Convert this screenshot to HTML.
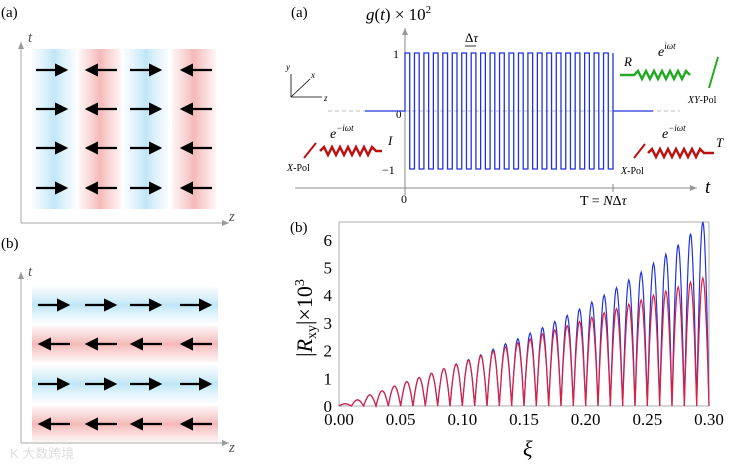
<!DOCTYPE html>
<html><head><meta charset="utf-8"><style>
body{margin:0;background:#fff;width:734px;height:464px;overflow:hidden}
svg{display:block;font-family:"Liberation Serif",serif}
</style></head><body>
<svg width="734" height="464" viewBox="0 0 734 464">
<defs>
<linearGradient id="gb" x1="0" x2="1"><stop offset="0" stop-color="#d6eefa" stop-opacity="0.2"/><stop offset="0.5" stop-color="#bfe6f7"/><stop offset="1" stop-color="#d6eefa" stop-opacity="0.2"/></linearGradient>
<linearGradient id="gr" x1="0" x2="1"><stop offset="0" stop-color="#f7c9c9" stop-opacity="0.2"/><stop offset="0.5" stop-color="#f5b8b8"/><stop offset="1" stop-color="#f7c9c9" stop-opacity="0.2"/></linearGradient>
<linearGradient id="hb" x1="0" x2="0" y1="0" y2="1"><stop offset="0" stop-color="#d6eefa" stop-opacity="0.2"/><stop offset="0.5" stop-color="#bfe6f7"/><stop offset="1" stop-color="#d6eefa" stop-opacity="0.2"/></linearGradient>
<linearGradient id="hr" x1="0" x2="0" y1="0" y2="1"><stop offset="0" stop-color="#f7c9c9" stop-opacity="0.2"/><stop offset="0.5" stop-color="#f5b8b8"/><stop offset="1" stop-color="#f7c9c9" stop-opacity="0.2"/></linearGradient>
<marker id="ah" markerWidth="8" markerHeight="8" refX="7" refY="4" orient="auto"><path d="M0,1 L7,4 L0,7 z" fill="#999"/></marker>
<marker id="ab" markerWidth="6" markerHeight="6" refX="5" refY="3" orient="auto"><path d="M0,0 L6,3 L0,6 z" fill="#000"/></marker>
</defs>

<g>
<text x="1" y="17" font-size="15">(a)</text>
<rect x="32" y="49" width="44" height="160" fill="url(#gb)"/>
<rect x="79" y="49" width="42" height="160" fill="url(#gr)"/>
<rect x="124" y="49" width="44" height="160" fill="url(#gb)"/>
<rect x="172" y="49" width="44" height="160" fill="url(#gr)"/>
<line x1="21" y1="223" x2="21" y2="42" stroke="#aaa" marker-end="url(#ah)"/>
<line x1="21" y1="223" x2="229" y2="223" stroke="#aaa" marker-end="url(#ah)"/>
<text x="28" y="42" font-size="15" font-style="italic" fill="#555">t</text>
<text x="229" y="221" font-size="15" font-style="italic" fill="#555">z</text>
</g>

<g>
<text x="1" y="248" font-size="15">(b)</text>
<rect x="32" y="287" width="186" height="36" fill="url(#hb)"/>
<rect x="32" y="326" width="186" height="36" fill="url(#hr)"/>
<rect x="32" y="366" width="186" height="36" fill="url(#hb)"/>
<rect x="32" y="406" width="186" height="36" fill="url(#hr)"/>
<line x1="21" y1="443" x2="21" y2="272" stroke="#aaa" marker-end="url(#ah)"/>
<line x1="21" y1="443" x2="229" y2="443" stroke="#aaa" marker-end="url(#ah)"/>
<text x="28" y="276" font-size="15" font-style="italic" fill="#555">t</text>
<text x="229" y="452" font-size="15" font-style="italic" fill="#555">z</text>
<text x="10" y="458" font-size="13" fill="#ddd" font-family="Liberation Sans,'Noto Sans CJK SC',sans-serif">K 大数跨境</text>
</g>
<g id="arrows" stroke="#000" stroke-width="2.2"></g>

<g>
<text x="291" y="17" font-size="15">(a)</text>
<text x="366" y="20" font-size="17"><tspan font-style="italic">g</tspan>(<tspan font-style="italic">t</tspan>) × 10<tspan font-size="11" dy="-7">2</tspan></text>
<line x1="328" y1="111" x2="680" y2="111" stroke="#bbb" stroke-dasharray="4,3"/>
<line x1="295" y1="188" x2="697" y2="188" stroke="#888" marker-end="url(#ah)"/>
<line x1="405" y1="195" x2="405" y2="28" stroke="#888" marker-end="url(#ah)"/>
<text x="705" y="193" font-size="19" font-style="italic">t</text>
<text x="393" y="58" font-size="12">1</text>
<text x="396" y="118" font-size="11">0</text>
<text x="382" y="174" font-size="12">−1</text>
<text x="401" y="203" font-size="12">0</text>
<line x1="613" y1="184" x2="613" y2="192" stroke="#888"/>
<text x="580" y="205" font-size="14">T = <tspan font-style="italic">N</tspan>Δ<tspan font-style="italic">τ</tspan></text>
<text x="465" y="42" font-size="13">Δ<tspan font-style="italic">τ</tspan></text>
<line x1="465" y1="46" x2="476" y2="46" stroke="#000" stroke-width="0.8"/>
<path id="sq" fill="none" stroke="#2233dd" stroke-width="1.3"/>
<g stroke="#000" stroke-width="0.8">
<line x1="291" y1="97" x2="291" y2="74"/><line x1="291" y1="97" x2="322" y2="97"/><line x1="291" y1="97" x2="310" y2="79"/>
</g>
<text x="286" y="70" font-size="9" font-style="italic">y</text>
<text x="311" y="78" font-size="9" font-style="italic">x</text>
<text x="324" y="101" font-size="9" font-style="italic">z</text>
<text x="330" y="138" font-size="14" font-style="italic">e<tspan font-size="9" dy="-7">−iωt</tspan></text>
<text x="388" y="145" font-size="13" font-style="italic">I</text>
<path d="M320,151 l4,-4 l4,8 l4,-8 l4,8 l4,-8 l4,8 l4,-8 l4,8 l4,-8 l4,8 l4,-8 l4,8 l4,-8 l4,4 l6,0" fill="none" stroke="#b11" stroke-width="2.5"/>
<line x1="304" y1="158" x2="316" y2="143" stroke="#b11" stroke-width="2"/>
<text x="287" y="171" font-size="10"><tspan font-style="italic">X</tspan>-Pol</text>
<text x="662" y="138" font-size="14" font-style="italic">e<tspan font-size="9" dy="-7">−iωt</tspan></text>
<text x="716" y="147" font-size="13" font-style="italic">T</text>
<path d="M648,153 l4,-4 l4,8 l4,-8 l4,8 l4,-8 l4,8 l4,-8 l4,8 l4,-8 l4,8 l4,-8 l4,8 l4,-8 l4,4 l10,0" fill="none" stroke="#b11" stroke-width="2.5"/>
<line x1="634" y1="158" x2="645" y2="144" stroke="#b11" stroke-width="2"/>
<text x="621" y="174" font-size="10"><tspan font-style="italic">X</tspan>-Pol</text>
<text x="658" y="56" font-size="14" font-style="italic">e<tspan font-size="9" dy="-7">iωt</tspan></text>
<text x="624" y="66" font-size="13" font-style="italic">R</text>
<path d="M620,75 l14,0 l4,-4 l4,8 l4,-8 l4,8 l4,-8 l4,8 l4,-8 l4,8 l4,-8 l4,8 l4,-8 l4,8 l4,-8 l4,4" fill="none" stroke="#2a2" stroke-width="2.5"/>
<line x1="709" y1="88" x2="718" y2="57" stroke="#2a2" stroke-width="2"/>
<text x="688" y="103" font-size="10"><tspan font-style="italic">XY</tspan>-Pol</text>
</g>

<g>
<text x="290" y="232" font-size="15">(b)</text>
<rect x="339" y="222" width="370" height="184" fill="none" stroke="#999" stroke-width="0.8"/>
<g id="ticks" font-size="17"></g>
<g id="curves"></g>
<text x="523" y="456" font-size="22" font-style="italic">ξ</text>
<text transform="translate(312,318) rotate(-90)" text-anchor="middle" font-size="22">|<tspan font-style="italic">R</tspan><tspan font-size="14" dy="4">xy</tspan><tspan dy="-4">|×10</tspan><tspan font-size="14" dy="-8">3</tspan></text>
</g>
</svg>
<script>
const NS='http://www.w3.org/2000/svg';
const xTicks=[0,0.05,0.10,0.15,0.20,0.25,0.30];
const xTickLabels=['0.00','0.05','0.10','0.15','0.20','0.25','0.30'];
const yTicks=[0,1,2,3,4,5,6];
const lobeCenters=[0.005,0.015,0.025,0.035,0.045,0.055,0.065,0.075,0.085,0.095,0.105,0.115,0.125,0.135,0.145,0.155,0.165,0.175,0.185,0.195,0.205,0.215,0.225,0.235,0.245,0.255,0.265,0.275,0.285,0.295];
const bluePeaks=[0.08,0.22,0.4,0.55,0.72,0.88,1.03,1.18,1.35,1.52,1.68,1.85,2.05,2.25,2.43,2.63,2.83,3.05,3.27,3.5,3.75,4.0,4.27,4.55,4.83,5.15,5.48,5.83,6.22,6.65];
const redPeaks=[0.08,0.22,0.4,0.55,0.72,0.88,1.03,1.18,1.35,1.5,1.65,1.82,1.98,2.13,2.28,2.42,2.6,2.75,2.9,3.05,3.2,3.37,3.52,3.68,3.83,4.0,4.15,4.3,4.47,4.62];
const lobeWidth=0.01;
const X=v=>339+v/0.30*370, Y=v=>406-v*27.7;
const tk=document.getElementById('ticks');
xTicks.forEach((v,i)=>{
 const t=document.createElementNS(NS,'text');
 
 
 t.setAttribute('x',X(v));t.setAttribute('y',425);t.setAttribute('text-anchor','middle');t.textContent=xTickLabels[i];tk.appendChild(t);
 const l=document.createElementNS(NS,'line');
 
 
 l.setAttribute('x1',X(v));l.setAttribute('x2',X(v));l.setAttribute('y1',406);l.setAttribute('y2',402);l.setAttribute('stroke','#999');tk.appendChild(l);
});
yTicks.forEach(v=>{
 const t=document.createElementNS(NS,'text');
 
 
 t.setAttribute('x',332);t.setAttribute('y',Y(v)+6);t.setAttribute('text-anchor','end');t.textContent=v;tk.appendChild(t);
});
const cv=document.getElementById('curves');
function series(peaks,color,name){
 let d='';
 lobeCenters.forEach((c,i)=>{
  for(let k=0;k<=16;k++){const f=k/16;const x=c-lobeWidth/2+f*lobeWidth;const y=peaks[i]*Math.sin(Math.PI*f);
   d+=(i===0&&k===0?'M':'L')+X(x).toFixed(1)+','+Y(y).toFixed(1);}
 });
 const p=document.createElementNS(NS,'path');
 
 
 p.setAttribute('d',d);p.setAttribute('fill','none');p.setAttribute('stroke',color);p.setAttribute('stroke-width','1.2');cv.appendChild(p);
}
series(bluePeaks,'#2233dd','blue-series');
series(redPeaks,'#e0203a','red-series');
const N=22,x0=405,x1=613,per=(x1-x0)/N;
let d='M365,111 L405,111 L405,53';
for(let i=0;i<N;i++){const a=x0+i*per;d+=` L${a+per/2},53 L${a+per/2},169 L${a+per},169 L${a+per},53`;}
d+=' L613,53 L613,111 L653,111';
document.getElementById('sq').setAttribute('d',d);
const ar=document.getElementById('arrows');
function arrow(xa,xb,y){const l=document.createElementNS(NS,'line');
 
 
 l.setAttribute('x1',xa);l.setAttribute('x2',xb);l.setAttribute('y1',y);l.setAttribute('y2',y);l.setAttribute('marker-end','url(#ab)');ar.appendChild(l);}
const colsA=[[36,66],[117,87],[130,160],[212,182]];
[70,109,148,188].forEach(y=>colsA.forEach(c=>arrow(c[0],c[1],y)));
const colsB=[[38,68],[85,115],[130,160],[180,210]];
[305,344,384,424].forEach((y,r)=>colsB.forEach(c=>r%2===0?arrow(c[0],c[1],y):arrow(c[1]+2,c[0]+2,y)));
</script>
</body></html>
